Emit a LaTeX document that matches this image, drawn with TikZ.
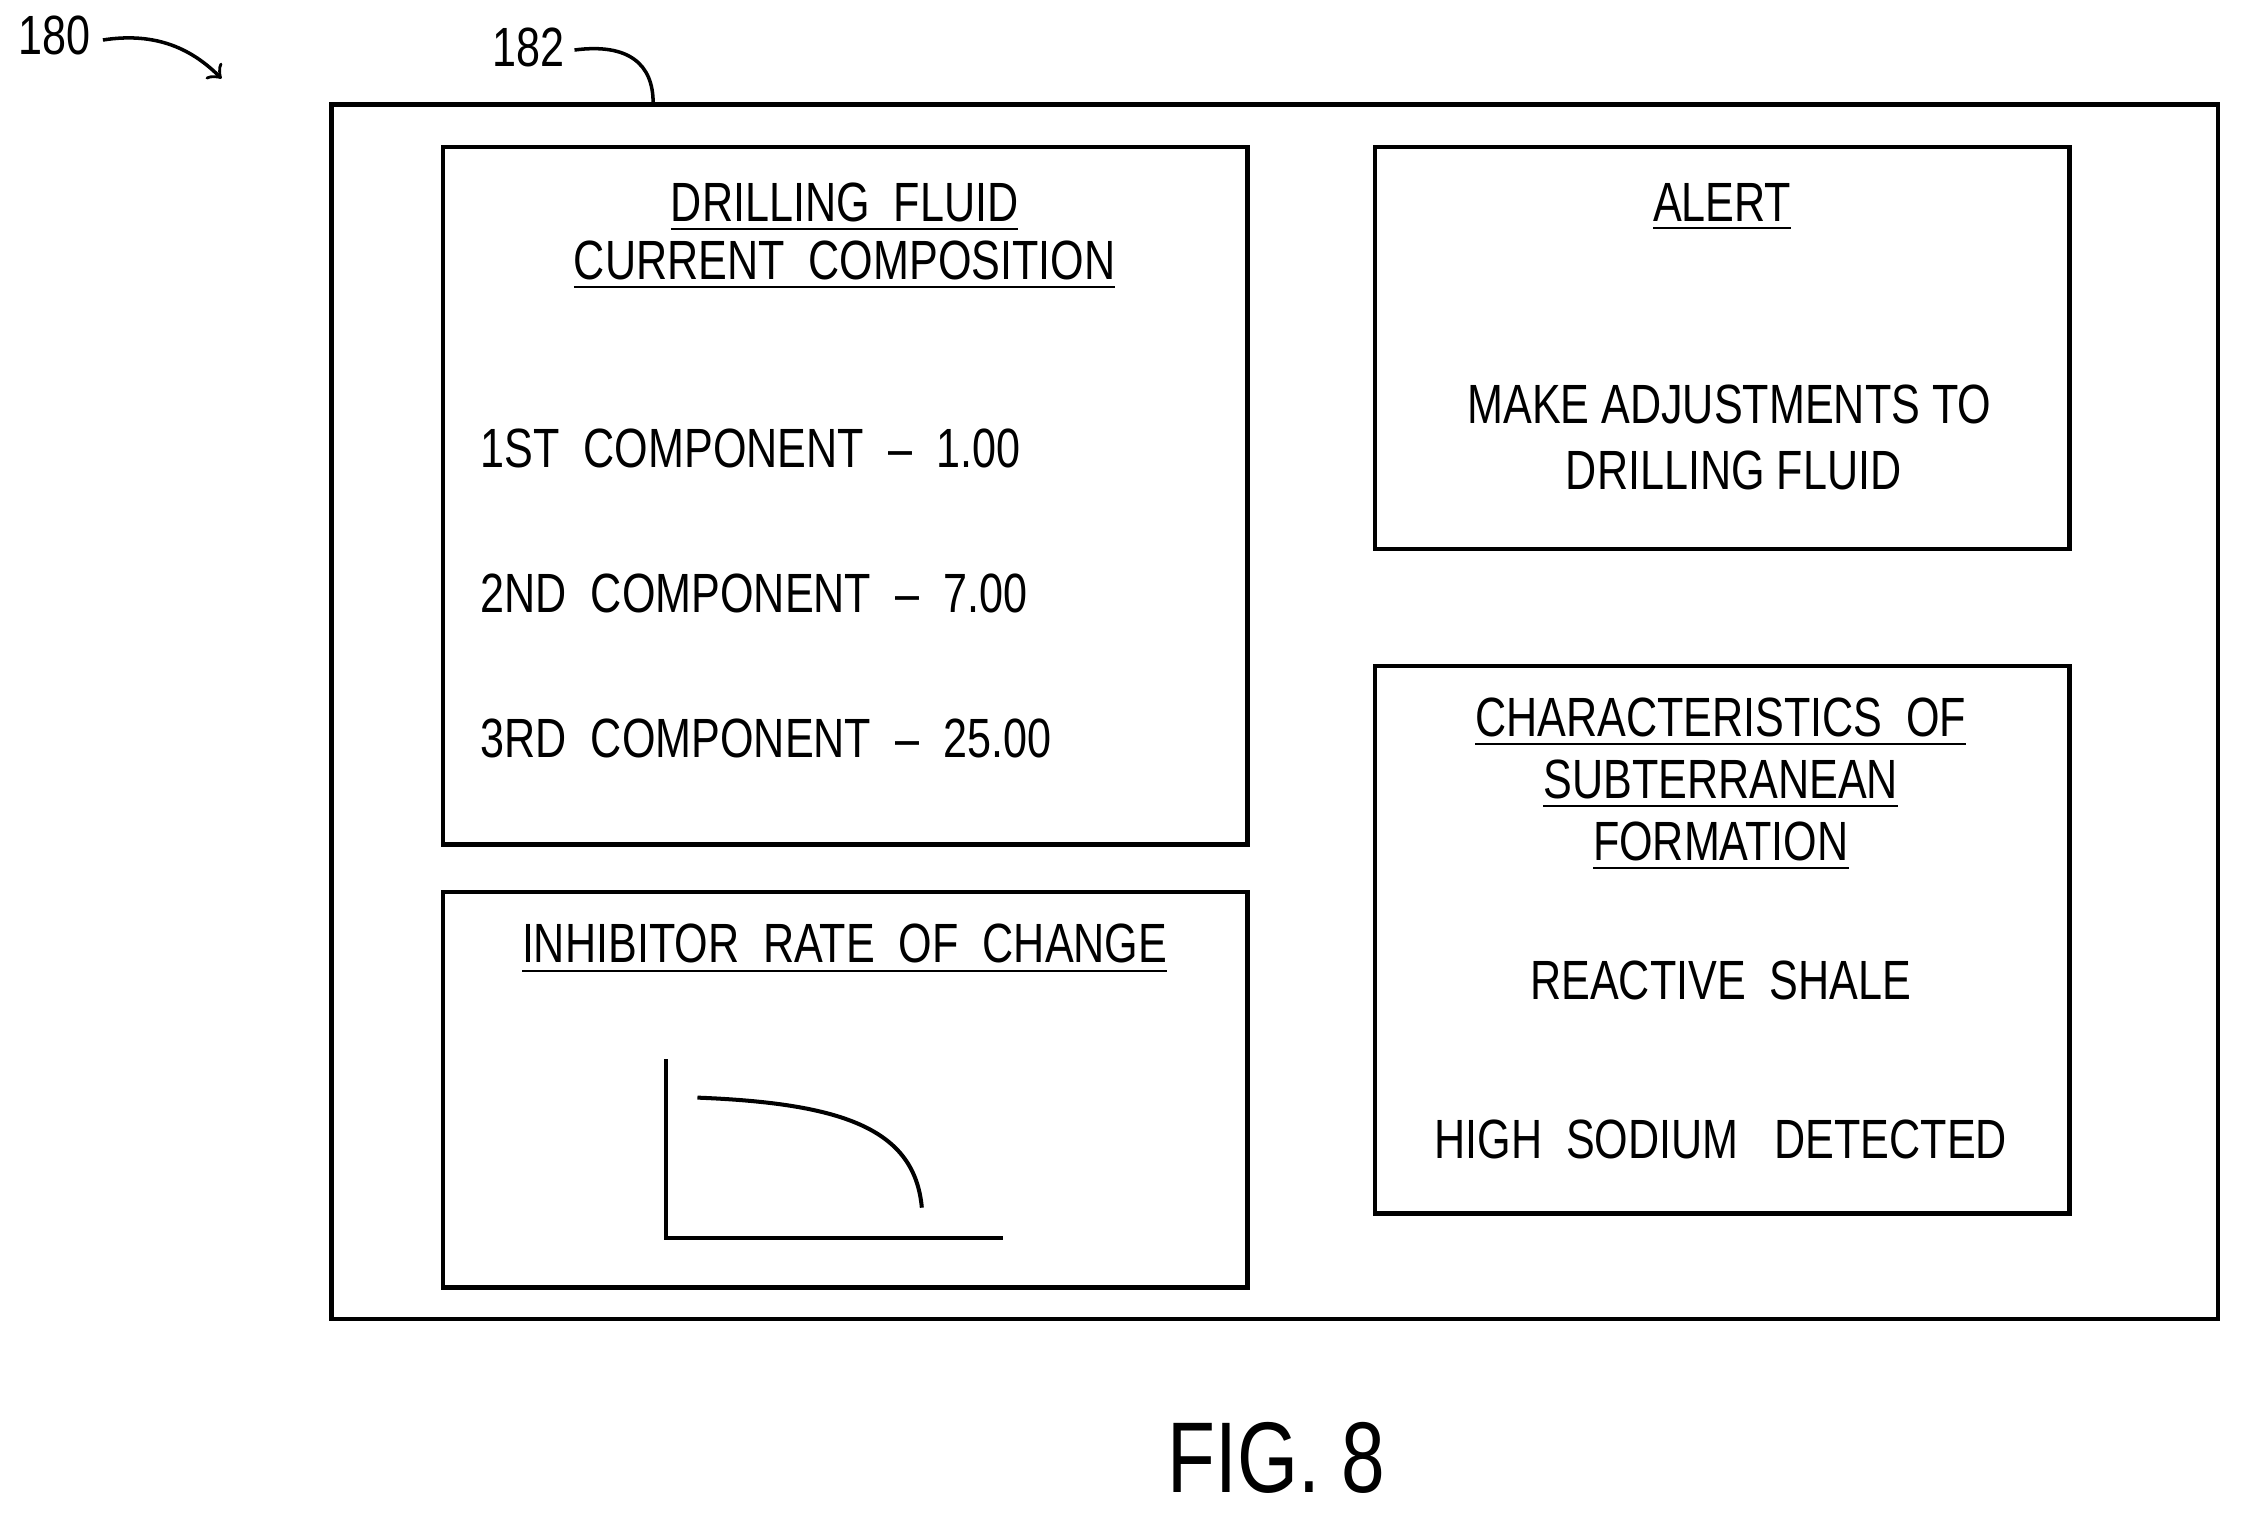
\documentclass[tikz,border=0pt]{standalone}
\usepackage{fontspec}
\setmainfont[FakeStretch=0.78]{Liberation Sans}
\usetikzlibrary{calc}

\begin{document}
\begin{tikzpicture}[x=0.01cm,y=-0.01cm,
  panel/.style={draw,line width=0.9pt},
  label/.style={font=\fontsize{11}{13.3}\selectfont,align=center},
  rowtext/.style={font=\fontsize{11}{13.3}\selectfont,anchor=west}]

\useasboundingbox (0,0) rectangle (1568,1058);

%Screen
\draw[panel] (232,73) coordinate (S0) rectangle (1552,923);
\draw[panel] (310,103) rectangle (873,591);
\draw[panel] (310,624) rectangle (873,901);
\draw[panel] (962,103) rectangle (1448,384);
\draw[panel] (962,466) rectangle (1448,849);

%Composition
\node[label] (ct1) at (591,145) {\underline{DRILLING\ \ FLUID}};
\node[label] (ct2) at (591,186) {\underline{CURRENT\ \ COMPOSITION}};
\node[rowtext] (c1) at (324,314) {1ST\ \ COMPONENT\ \ --\ \ 1.00};
\node[rowtext] (c2) at (324,415) {2ND\ \ COMPONENT\ \ --\ \ 7.00};
\node[rowtext] (c3) at (324,517) {3RD\ \ COMPONENT\ \ --\ \ 25.00};

%Inhibitor
\node[label] (it) at (591,664) {\underline{INHIBITOR\ \ RATE\ \ OF\ \ CHANGE}};
\draw[line width=0.8pt] (466,741) -- (466,866) -- (702,866);
\draw[line width=0.8pt] (488,768) .. controls (590,772) and (640,790) .. (645,845);

%Alert
\node[label] (at) at (1205,145) {\underline{ALERT}};
\node[label] (am1) at (1210,283) {MAKE ADJUSTMENTS TO};
\node[label] (am2) at (1213,329) {DRILLING FLUID};

%Formation
\node[label] (ft) at (1204,549) {\underline{CHARACTERISTICS\ \ OF}\\[-1pt]\underline{SUBTERRANEAN}\\[-1pt]\underline{FORMATION}};
\node[label] (f1) at (1204,686) {REACTIVE\ \ SHALE};
\node[label] (f2) at (1204,797) {HIGH\ \ SODIUM\ \ \ DETECTED};

%Reference numerals
\node[label] (n180) at (38,25) {180};
\draw[->,line width=0.7pt] (72,28) .. controls (110,22) and (135,35) .. (155,55);
\node[label] (n182) at (370,33) {182};
\draw[line width=0.7pt] (402,35) .. controls (440,30) and (457,45) .. (457,72);

\node[font=\fontsize{20}{24}\selectfont] (fig) at (893,1020) {FIG. 8};
\end{tikzpicture}
\end{document}
